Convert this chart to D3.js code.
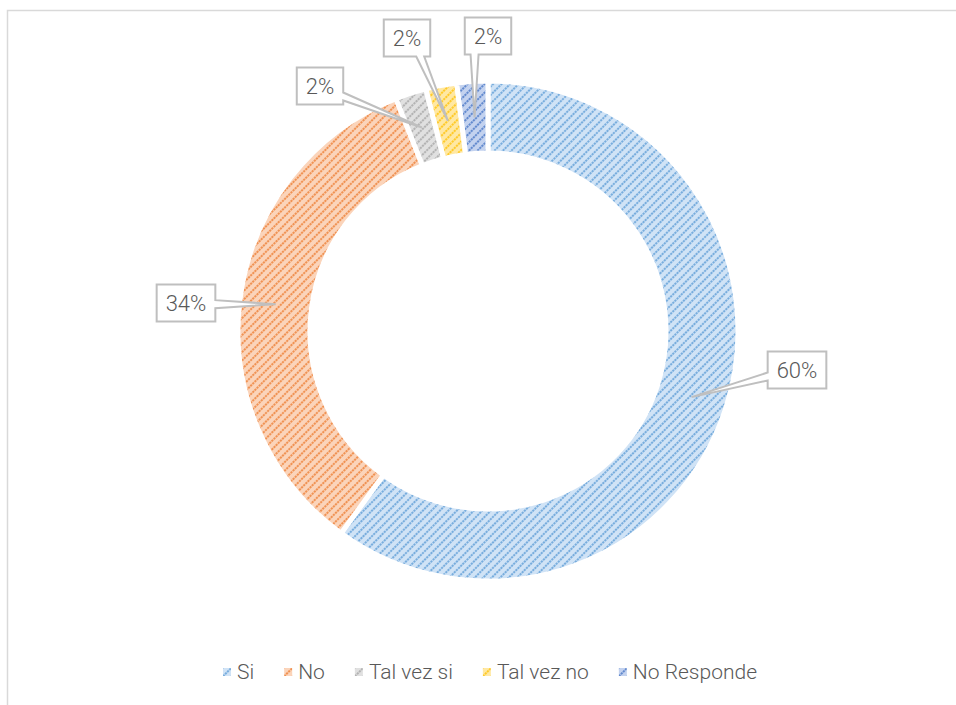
<!DOCTYPE html>
<html lang="es">
<head>
    <meta charset="UTF-8">
    <title>Donut</title>
    <style>
        body {
            margin: 0;
            padding: 0;
            background: #ffffff;
            font-family: Roboto, sans-serif;
        }
        svg text {
            fill: #595959;
            font-weight: 300;
        }
    </style>
</head>
<body>
    <div id="container"></div>

    <script src="https://d3js.org/d3.v7.min.js"></script>
    <script>
        // Data
        const categories = ["Si", "No", "Tal vez si", "Tal vez no", "No Responde"];
        const values = [60, 34, 2, 2, 2];
        const labels = ["60%", "34%", "2%", "2%", "2%"];

        // fill / line colours of the patterned slices
        const lightColors = ["#d0e3f6", "#fbd4ba", "#e0e0e0", "#ffe8a3", "#c3d2ef"];
        const darkColors = ["#5b9bd5", "#ed7d31", "#a5a5a5", "#ffc000", "#4472c4"];

        // where each callout box sits (centre), chosen by hand like Excel's best fit
        const boxCenters = [[797, 370], [186, 303], [320, 86], [407, 38], [488, 36]];

        const width = 956;
        const height = 705;
        const cx = 488, cy = 331;
        const outerR = 250, innerR = 178;

        const svg = d3.select("#container")
            .append("svg")
            .attr("width", width)
            .attr("height", height);

        // chart area border
        svg.append("rect")
            .attr("x", 7.5)
            .attr("y", 10.5)
            .attr("width", 1000)
            .attr("height", 800)
            .attr("fill", "none")
            .attr("stroke", "#d9d9d9")
            .attr("stroke-width", 1.5);

        // patterns
        const defs = svg.append("defs");
        categories.forEach((c, i) => {
            const p = defs.append("pattern")
                .attr("id", "pat" + i)
                .attr("patternUnits", "userSpaceOnUse")
                .attr("width", 6)
                .attr("height", 6)
                .attr("patternTransform", "rotate(-45)");
            p.append("rect")
                .attr("width", 6)
                .attr("height", 6)
                .attr("fill", lightColors[i]);
            p.append("line")
                .attr("x1", 0).attr("y1", 3)
                .attr("x2", 6).attr("y2", 3)
                .attr("stroke", darkColors[i])
                .attr("stroke-width", 1.7)
                .attr("stroke-dasharray", "2.2,0.8");
        });

        const pie = d3.pie().sort(null).value(d => d)(values);
        const arc = d3.arc().innerRadius(innerR).outerRadius(outerR);
        const midArc = d3.arc().innerRadius((innerR + outerR) / 2).outerRadius((innerR + outerR) / 2);

        const g = svg.append("g").attr("transform", `translate(${cx},${cy})`);

        g.selectAll("path.slice")
            .data(pie)
            .enter()
            .append("path")
            .attr("class", "slice")
            .attr("d", arc)
            .attr("fill", (d, i) => `url(#pat${i})`)
            .attr("stroke", "#ffffff")
            .attr("stroke-width", 5)
            .attr("stroke-linejoin", "miter");

        // callouts
        const boxH = 37;
        const calloutG = svg.append("g");

        pie.forEach((d, i) => {
            const c = midArc.centroid(d);
            const tip = [c[0] + cx, c[1] + cy];
            const t = calloutG.append("text")
                .attr("x", boxCenters[i][0])
                .attr("y", boxCenters[i][1])
                .attr("text-anchor", "middle")
                .attr("dominant-baseline", "central")
                .style("font-size", "22px")
                .text(labels[i]);
            const tw = t.node().getComputedTextLength();
            const bw = tw + 18;
            const L = boxCenters[i][0] - bw / 2, R = boxCenters[i][0] + bw / 2;
            const T = boxCenters[i][1] - boxH / 2, B = boxCenters[i][1] + boxH / 2;
            const half = 4;
            let pts;
            if (tip[0] < L) {
                const y0 = Math.max(T + 8, Math.min(B - 12, tip[1]));
                pts = [[L, T], [R, T], [R, B], [L, B], [L, y0 + half], tip, [L, y0 - half]];
            } else if (tip[0] > R && (tip[0] - R) > (tip[1] - B)) {
                const y0 = Math.max(T + 8, Math.min(B - 8, tip[1]));
                pts = [[L, T], [R, T], [R, y0 - half], tip, [R, y0 + half], [R, B], [L, B]];
            } else {
                const x0 = Math.max(L + 8, Math.min(R - 10, tip[0]));
                pts = [[L, T], [R, T], [R, B], [x0 + half, B], tip, [x0 - half, B], [L, B]];
            }
            calloutG.insert("path", "text")
                .attr("d", "M" + pts.map(p => p.join(",")).join("L") + "Z")
                .attr("fill", "#ffffff")
                .attr("stroke", "#bfbfbf")
                .attr("stroke-width", 2)
                .attr("stroke-linejoin", "miter");
        });

        // legend
        const legend = svg.append("g");
        let x = 0;
        categories.forEach((c, i) => {
            const it = legend.append("g");
            it.append("rect")
                .attr("x", 0)
                .attr("y", -4)
                .attr("width", 8)
                .attr("height", 8)
                .attr("fill", `url(#pat${i})`);
            const t = it.append("text")
                .attr("x", 14)
                .attr("y", 0)
                .attr("dominant-baseline", "central")
                .style("font-size", "21px")
                .text(c);
            const w = 14 + t.node().getComputedTextLength();
            it.attr("transform", `translate(${x},0)`);
            x += w + 30;
        });
        const total = x - 30;
        legend.attr("transform", `translate(${490 - total / 2},672)`);
    </script>
</body>
</html>
